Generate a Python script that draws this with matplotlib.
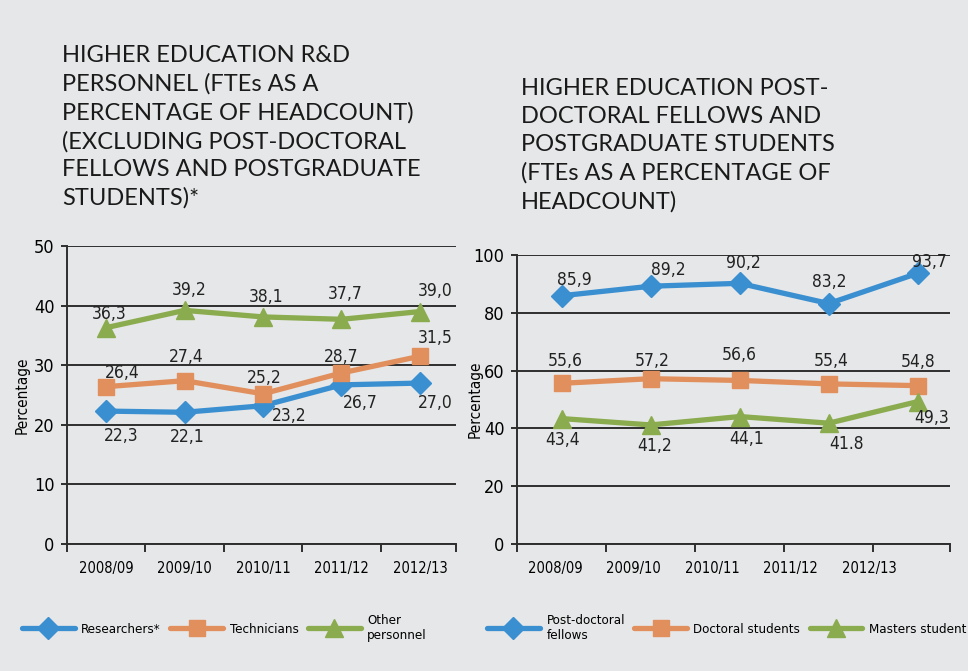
import numpy as np
import matplotlib
matplotlib.use('Agg')
import matplotlib.pyplot as plt
from matplotlib import font_manager

# Data
years = ['2008/09', '2009/10', '2010/11', '2011/12', '2012/13']

researchers = [22.3, 22.1, 23.2, 26.7, 27.0]
technicians = [26.4, 27.4, 25.2, 28.7, 31.5]
other_personnel = [36.3, 39.2, 38.1, 37.7, 39.0]

postdocs = [85.9, 89.2, 90.2, 83.2, 93.7]
doctoral = [55.6, 57.2, 56.6, 55.4, 54.8]
masters = [43.4, 41.2, 44.1, 41.8, 49.3]
masters_labels = ['43,4', '41,2', '44,1', '41.8', '49,3']

left_title = ('HIGHER EDUCATION R&D\nPERSONNEL (FTEs AS A\nPERCENTAGE OF HEADCOUNT)\n'
              '(EXCLUDING POST-DOCTORAL\nFELLOWS AND POSTGRADUATE\nSTUDENTS)*')
right_title = ('HIGHER EDUCATION POST-\nDOCTORAL FELLOWS AND\nPOSTGRADUATE STUDENTS\n'
               '(FTEs AS A PERCENTAGE OF\nHEADCOUNT)')

# label offsets in pixels (dx, dy), positive dy = up
left_offsets = {
    'researchers': [(15, -25), (3, -25), (26, -10), (19, -18), (15, -20)],
    'technicians': [(16, 14), (2, 24), (1, 16), (0, 16), (15, 18)],
    'other': [(3, 14), (5, 20), (3, 20), (4, 25), (15, 21)],
}
right_offsets = {
    'postdocs': [(13, 16), (18, 16), (4, 20), (0, 22), (12, 11)],
    'doctoral': [(4, 22), (2, 18), (0, 25), (2, 23), (0, 24)],
    'masters': [(1, -21), (4, -21), (7, -22), (18, -21), (14, -16)],
}

BLUE = '#3a8fd1'
ORANGE = '#e18f5d'
GREEN = '#8aab4e'
BG = '#e6e7e8'
DARK = '#2e2e2e'

# the reference uses a condensed face; take a narrow one if there is one
narrow = [f.name for f in font_manager.fontManager.ttflist if 'Narrow' in f.name]
if 'Liberation Sans Narrow' in narrow:
    plt.rcParams['font.family'] = ['Liberation Sans Narrow', 'DejaVu Sans']
else:
    plt.rcParams['font.family'] = ['DejaVu Sans']
    plt.rcParams['font.stretch'] = 'condensed'

fig = plt.figure(figsize=(9.68, 6.71), dpi=100, facecolor=BG)
ax1 = fig.add_axes([67 / 968, 1 - 544 / 671, (456 - 67) / 968, (544 - 246) / 671])
ax2 = fig.add_axes([517 / 968, 1 - 544 / 671, (950 - 517) / 968, (544 - 255) / 671])

styles = [dict(color=BLUE, marker='D', markersize=11),
          dict(color=ORANGE, marker='s', markersize=12),
          dict(color=GREEN, marker='^', markersize=13)]


def fmt(v):
    return ('%.1f' % v).replace('.', ',')


def style_axes(ax, ymax, xmax):
    ax.set_facecolor(BG)
    ax.set_ylim(0, ymax)
    ax.set_xlim(-0.5, xmax)
    ax.set_yticks(np.arange(0, ymax + 1, ymax / 5))
    ax.yaxis.grid(True, color=DARK, linewidth=1.4)
    ax.set_axisbelow(True)
    for s in ['top', 'right']:
        ax.spines[s].set_visible(False)
    for s in ['left', 'bottom']:
        ax.spines[s].set_color(DARK)
        ax.spines[s].set_linewidth(1.4)
    ax.tick_params(axis='y', length=4, width=1.4, color=DARK, labelsize=13, pad=5)
    ax.tick_params(axis='x', which='major', length=6, width=1.4, color=DARK, labelbottom=False)
    ax.tick_params(axis='x', which='minor', length=0, labelsize=10.5, pad=12)
    ax.set_ylabel('Percentage', fontsize=11)


x = np.arange(len(years))

# Left chart
style_axes(ax1, 50, 4.46)
ax1.set_xticks(list(np.arange(-0.5, 4, 1.0)) + [4.46])
ax1.set_xticks(x, minor=True)
ax1.set_xticklabels(years, minor=True)
ax1.yaxis.set_label_coords(-0.095, 0.5)
left_series = [(researchers, 'Researchers*', 'researchers'),
               (technicians, 'Technicians', 'technicians'),
               (other_personnel, 'Other\npersonnel', 'other')]
for (vals, name, key), st in zip(left_series, styles):
    ax1.plot(x, vals, linewidth=3.8, label=name, clip_on=False,
             solid_capstyle='round', **st)
    for xi, v, (dx, dy) in zip(x, vals, left_offsets[key]):
        ax1.annotate(fmt(v), (xi, v), xytext=(dx, dy), textcoords='offset pixels',
                     ha='center', va='center', fontsize=12.5, color='#222222')

# Right chart
style_axes(ax2, 100, 4.36)
ax2.set_xticks(list(np.arange(-0.5, 4, 1.0)) + [4.36])
ax2.set_xticks(np.arange(len(years)) * 0.88 - 0.07, minor=True)
ax2.set_xticklabels(years, minor=True)
ax2.yaxis.set_label_coords(-0.08, 0.5)
right_series = [(postdocs, 'Post-doctoral\nfellows', 'postdocs', None),
                (doctoral, 'Doctoral students', 'doctoral', None),
                (masters, 'Masters student', 'masters', masters_labels)]
for (vals, name, key, labs), st in zip(right_series, styles):
    ax2.plot(x, vals, linewidth=3.8, label=name, clip_on=False,
             solid_capstyle='round', **st)
    labs = labs or [fmt(v) for v in vals]
    for xi, v, lab, (dx, dy) in zip(x, vals, labs, right_offsets[key]):
        ax2.annotate(lab, (xi, v), xytext=(dx, dy), textcoords='offset pixels',
                     ha='center', va='center', fontsize=12.5, color='#222222')

# Titles
title_kw = dict(ha='left', va='top', fontsize=17, family=['Lato', 'DejaVu Sans'],
                stretch='normal', linespacing=1.41, color='#1a1a1a')
fig.text(62 / 968, 1 - 45 / 671, left_title, **title_kw)
fig.text(521 / 968, 1 - 78 / 671, right_title, **title_kw)

# Legends
leg_kw = dict(ncol=3, frameon=False, fontsize=9.5, handlelength=4.0, handletextpad=0.5,
              columnspacing=0.7, loc='center left', borderaxespad=0, borderpad=0)
ax1.legend(bbox_to_anchor=(22 / 968, 1 - 628 / 671), bbox_transform=fig.transFigure, **leg_kw)
ax2.legend(bbox_to_anchor=(487 / 968, 1 - 628 / 671), bbox_transform=fig.transFigure, **leg_kw)

fig.savefig('out.png', dpi=100, facecolor=BG)
